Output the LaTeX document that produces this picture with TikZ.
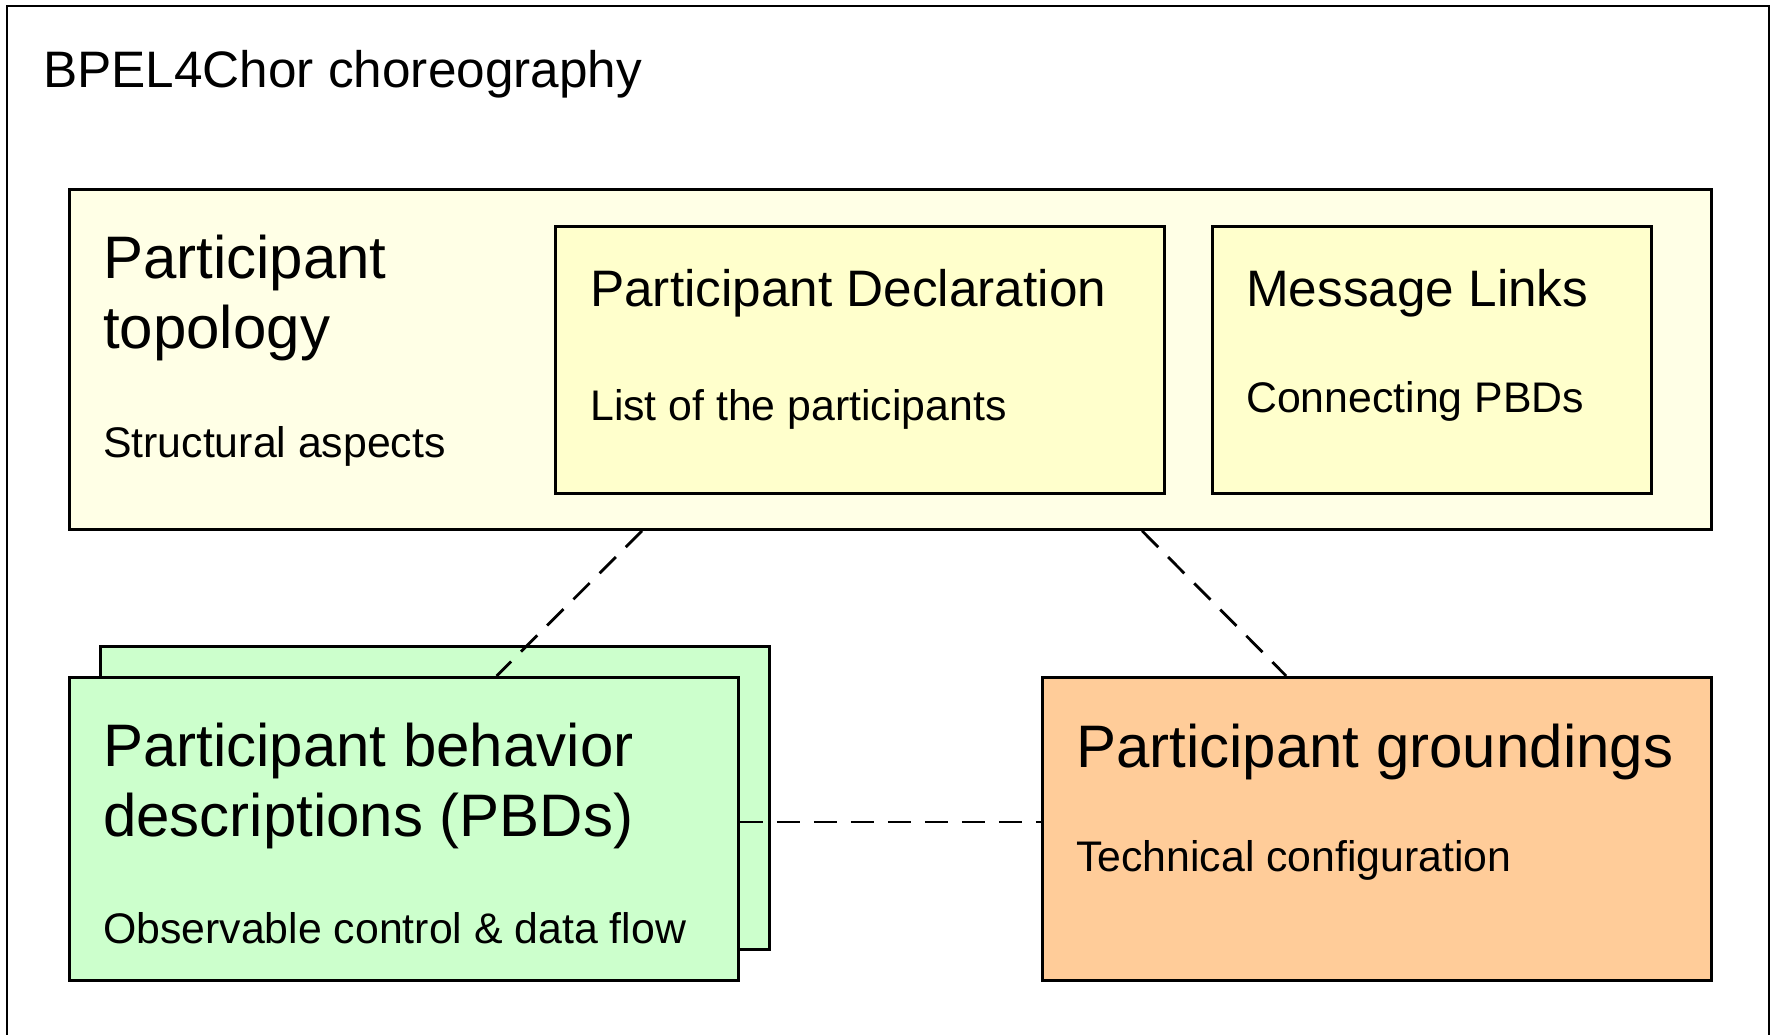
\documentclass[tikz,border=0pt]{standalone}
\usepackage{fontspec}
\setmainfont{Liberation Sans}
\usetikzlibrary{calc}

\definecolor{topofill}{HTML}{FFFFE6}
\definecolor{declfill}{HTML}{FFFFCC}
\definecolor{pbdfill}{HTML}{CCFFCC}
\definecolor{groundfill}{HTML}{FFCC99}

\tikzset{
  box/.style={draw=black, line width=2.8pt, rectangle, inner sep=0pt, anchor=north west},
  bigtitle/.style={anchor=base west, inner sep=0pt, font=\fontsize{60}{70}\selectfont, align=left},
  midtitle/.style={anchor=base west, inner sep=0pt, font=\fontsize{51.3}{60}\selectfont},
  subtext/.style={anchor=base west, inner sep=0pt, font=\fontsize{42.8}{50}\selectfont},
  dashline/.style={draw=black, line width=2.8pt, dash pattern=on 23pt off 14pt},
}

\begin{document}
\begin{tikzpicture}[x=1pt, y=-1pt]
  \useasboundingbox (0,0) rectangle (1778,1035);
  \fill[white] (0,0) rectangle (1778,1035);

  % choreography frame, open towards the bottom
  \draw[line width=2.8pt] (7,1045) -- (7,6) -- (1769,6) -- (1769,1045);
  \node[anchor=base west, inner sep=0pt, font=\fontsize{51.3}{60}\selectfont] (chor) at (43,88) {BPEL4Chor choreography};

  % participant topology
  \node[box, fill=topofill, minimum width=1642pt, minimum height=340pt] (topo) at (68,188) {};
  \node[box, fill=declfill, minimum width=609pt, minimum height=267pt] (decl) at (554,225) {};
  \node[box, fill=declfill, minimum width=439pt, minimum height=267pt] (msgl) at (1211,225) {};

  % a multi-line node sits on the baseline of its last line
  \node[bigtitle] (topotitle) at (103,348) {Participant\\topology};
  \node[subtext] (topotext) at (103,457) {Structural aspects};
  \node[midtitle] (decltitle) at (590,306) {Participant Declaration};
  \node[subtext] (decltext) at (590,420) {List of the participants};
  \node[midtitle] (msgltitle) at (1246,306) {Message Links};
  \node[subtext] (msgltext) at (1246,412) {Connecting PBDs};

  % participant behavior descriptions (stacked) and groundings
  \node[box, fill=pbdfill, minimum width=669pt, minimum height=303pt] (pbdback) at (99,645) {};
  \node[box, fill=pbdfill, minimum width=669pt, minimum height=303pt] (pbd) at (68,676) {};
  \node[box, fill=groundfill, minimum width=669pt, minimum height=303pt] (ground) at (1041,676) {};

  \node[bigtitle] (pbdtitle) at (103,836) {Participant behavior\\descriptions (PBDs)};
  \node[subtext] (pbdtext) at (103,943) {Observable control \& data flow};
  \node[bigtitle] (groundtitle) at (1076,767) {Participant groundings};
  \node[subtext] (groundtext) at (1076,871) {Technical configuration};

  % relations
  \draw[dashline] ($(topo.south west)!0.349!(topo.south east)$) -- ($(pbd.north west)!0.638!(pbd.north east)$);
  \draw[dashline] ($(topo.south west)!0.653!(topo.south east)$) -- ($(ground.north west)!0.365!(ground.north east)$);
  \draw[dashline] ([yshift=7pt]pbd.east) -- ([yshift=7pt]ground.west);
\end{tikzpicture}
\end{document}
